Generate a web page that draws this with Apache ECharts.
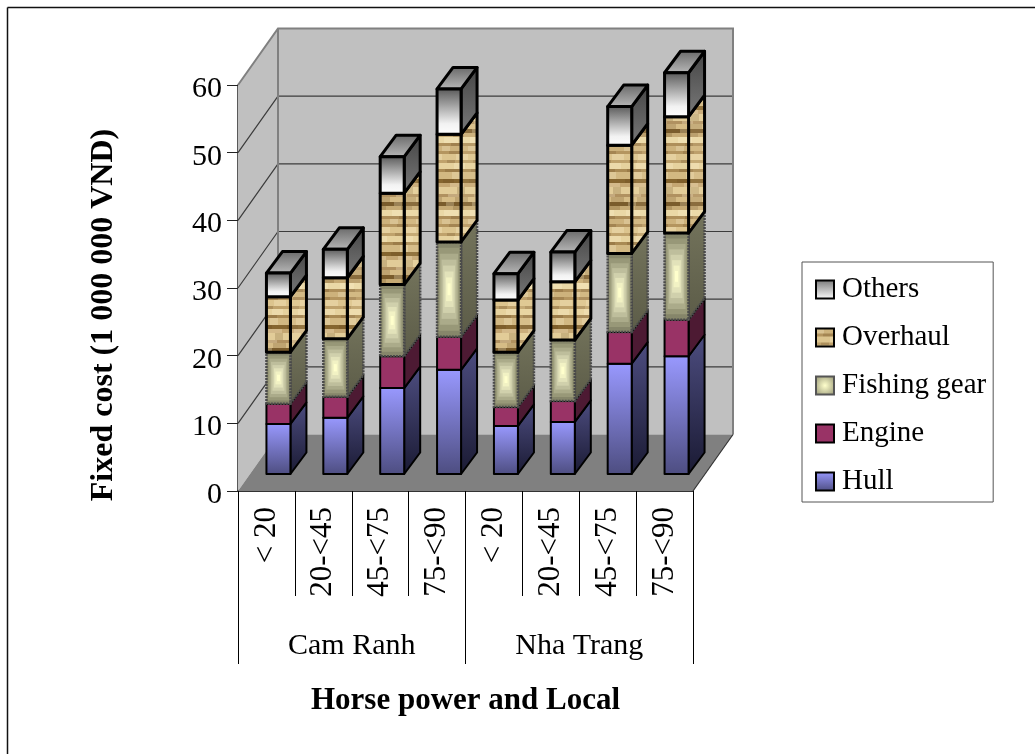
<!DOCTYPE html>
<html>
<head>
<meta charset="utf-8">
<style>
  html, body { margin: 0; padding: 0; background: #fff; }
  #chart { width: 1035px; height: 754px; }
</style>
<script src="https://cdn.jsdelivr.net/npm/echarts@6/dist/echarts.min.js"></script>
</head>
<body>
<div id="chart"></div>
<script>
const categories = ['< 20', '20-<45', '45-<75', '75-<90', '< 20', '20-<45', '45-<75', '75-<90']
const locals = ['Cam Ranh', 'Nha Trang']
const valueTicks = [10, 20, 30, 40, 50, 60]

const hull = [7.4, 8.3, 12.7, 15.4, 7.1, 7.7, 16.3, 17.4]
const engine = [3.0, 3.1, 4.7, 4.9, 2.8, 3.1, 4.7, 5.4]
const fishingGear = [7.6, 8.6, 10.6, 14.0, 8.1, 9.0, 11.6, 12.8]
const overhaul = [8.2, 9.0, 13.5, 15.9, 7.7, 8.6, 16.0, 17.2]
const others = [3.5, 4.2, 5.4, 6.7, 3.9, 4.4, 5.7, 6.5]

const FONT = '"Liberation Serif", "Times New Roman", serif'
// oblique offset of the back wall, and of each bar inside the floor
const DEPTH = [40, -56.5]
const BAR_FRONT = [12, -17]
const BAR_SIDE = [16, -21.5]
const BAR_WIDTH = 24

// tan tile used for the overhaul faces: rows of [height, colour]
const tileRows = [
  [5, '#cdb27c'], [3, '#b4955f'], [6, '#dcc48e'], [3, '#bfa26c'], [6, '#e6d29e'],
  [3, '#a98a54'], [7, '#d2b882'], [4, '#85652f'], [4, '#c4a672'], [7, '#e2cc98'],
  [3, '#b09160'], [5, '#d6bc86'], [4, '#7a5c2c'], [4, '#c6aa74'], [6, '#ead8a6'],
  [3, '#ae8f5a']
]
function makeTile(shade) {
  const c = document.createElement('canvas')
  c.width = 26
  c.height = tileRows.reduce((s, r) => s + r[0], 0)
  const ctx = c.getContext('2d')
  let y = 0
  tileRows.forEach((r, i) => {
    ctx.fillStyle = r[1]
    ctx.fillRect(0, y, 26, r[0])
    // soft blocks so the stripes do not read as plain lines
    ctx.fillStyle = i % 2 ? 'rgba(100,70,30,0.2)' : 'rgba(255,245,210,0.25)'
    ctx.fillRect((i * 7) % 16, y, 8 + (i % 3) * 3, r[0])
    y += r[0]
  })
  if (shade) {
    ctx.fillStyle = shade
    ctx.fillRect(0, 0, 26, c.height)
  }
  return c
}
const overhaulFront = { image: makeTile(null), repeat: 'repeat' }
const overhaulSide = { image: makeTile('rgba(255,240,200,0.12)'), repeat: 'repeat' }

function vGrad(top, bottom) {
  return { type: 'linear', x: 0, y: 0, x2: 0, y2: 1, colorStops: [{ offset: 0, color: top }, { offset: 1, color: bottom }] }
}

const looks = {
  Hull: { front: vGrad('#9999ff', '#4d4d80'), side: vGrad('#4d4d80', '#1a1a33'), line: '#000', lw: 2 },
  Engine: { front: '#993366', side: '#4d1a33', line: '#000', lw: 2 },
  'Fishing gear': { glow: ['#86866a', '#989878', '#abab8a', '#bebe9c', '#d0d0ac', '#e2e2ba', '#f2f2c4', '#ffffcc'], side: vGrad('#74745c', '#5c5c48'), line: '#4a4a4a', lw: 2.5, dash: [2, 1] },
  Overhaul: { front: overhaulFront, side: overhaulSide, line: '#000', lw: 3 },
  Others: {
    front: { type: 'linear', x: 0, y: 0, x2: 0, y2: 1, colorStops: [{ offset: 0, color: '#555555' }, { offset: 0.75, color: '#f2f2f2' }, { offset: 1, color: '#ffffff' }] },
    side: vGrad('#444444', '#7a7a7a'),
    top: vGrad('#666666', '#bbbbbb'),
    line: '#000',
    lw: 3
  }
}

const stackOrder = [['Hull', hull], ['Engine', engine], ['Fishing gear', fishingGear], ['Overhaul', overhaul], ['Others', others]]

function poly(points, fill, look) {
  return {
    type: 'polygon',
    shape: { points },
    style: { fill, stroke: look.line, lineWidth: look.lw, lineDash: look.dash || null, lineJoin: 'round' }
  }
}

function segmentRenderer(level) {
  const name = stackOrder[level][0]
  const look = looks[name]
  return function (params, api) {
    const i = api.value(0)
    let base = 0
    for (let k = 0; k < level; k++) base += stackOrder[k][1][i]
    const lo = api.coord([i, base])
    const hi = api.coord([i, base + api.value(1)])
    const xl = lo[0] + BAR_FRONT[0] - BAR_WIDTH / 2
    const xr = xl + BAR_WIDTH
    const yb = lo[1] + BAR_FRONT[1]
    const yt = hi[1] + BAR_FRONT[1]
    const sx = BAR_SIDE[0]
    const sy = BAR_SIDE[1]
    const kids = []
    kids.push(poly([[xr, yb], [xr + sx, yb + sy], [xr + sx, yt + sy], [xr, yt]], look.side, look))
    if (look.top) kids.push(poly([[xl, yt], [xr, yt], [xr + sx, yt + sy], [xl + sx, yt + sy]], look.top, look))
    if (look.glow) {
      // rectangular glow: nested boxes going to the light centre
      const n = look.glow.length
      look.glow.forEach((color, g) => {
        const ix = (BAR_WIDTH / 2) * g / n
        const iy = ((yb - yt) / 2) * g / n
        kids.push({ type: 'rect', shape: { x: xl + ix, y: yt + iy, width: BAR_WIDTH - 2 * ix, height: yb - yt - 2 * iy }, style: { fill: color } })
      })
      kids.push({ type: 'rect', shape: { x: xl, y: yt, width: BAR_WIDTH, height: yb - yt }, style: { fill: null, stroke: look.line, lineWidth: look.lw, lineDash: look.dash } })
    } else {
      kids.push(poly([[xl, yb], [xr, yb], [xr, yt], [xl, yt]], look.front, look))
    }
    return { type: 'group', children: kids }
  }
}

// walls, floor and the oblique gridlines of the box
function renderBox(params, api) {
  const g = params.coordSys
  const dx = DEPTH[0]
  const dy = DEPTH[1]
  const left = g.x
  const right = g.x + g.width
  const bottom = g.y + g.height
  const top = g.y
  const wall = { fill: '#c0c0c0' }
  const edge = { stroke: '#808080', lineWidth: 2, fill: null }
  const kids = [
    { type: 'polygon', shape: { points: [[left, bottom], [left + dx, bottom + dy], [left + dx, top + dy], [left, top]] }, style: wall },
    { type: 'polygon', shape: { points: [[left + dx, bottom + dy], [right + dx, bottom + dy], [right + dx, top + dy], [left + dx, top + dy]] }, style: wall },
    { type: 'polygon', shape: { points: [[left, bottom], [right, bottom], [right + dx, bottom + dy], [left + dx, bottom + dy]] }, style: { fill: '#808080' } }
  ]
  valueTicks.slice(0, -1).forEach(v => {
    const y = api.coord([0, v])[1]
    kids.push({ type: 'polyline', shape: { points: [[left, y], [left + dx, y + dy], [right + dx, y + dy]] }, style: { stroke: '#3c3c3c', lineWidth: 1.2, fill: null } })
  })
  kids.push({ type: 'polyline', shape: { points: [[left, top], [left + dx, top + dy], [right + dx, top + dy], [right + dx, bottom + dy]] }, style: edge })
  kids.push({ type: 'line', shape: { x1: left + dx, y1: top + dy, x2: left + dx, y2: bottom + dy }, style: edge })
  kids.push({ type: 'line', shape: { x1: right, y1: bottom, x2: right + dx, y2: bottom + dy }, style: { stroke: '#333', lineWidth: 1.2 } })
  return { type: 'group', children: kids }
}

const series = [{
  name: 'box',
  type: 'custom',
  clip: false,
  silent: true,
  z: 1,
  data: [[0, 0]],
  renderItem: renderBox
}]
stackOrder.forEach((s, level) => {
  series.push({
    name: s[0],
    type: 'custom',
    clip: false,
    z: 2 + level,
    encode: { x: 0, y: 1 },
    data: s[1].map((v, i) => [i, v]),
    renderItem: segmentRenderer(level)
  })
})

const legendIcon = {
  Others: vGrad('#777777', '#ffffff'),
  Overhaul: overhaulFront,
  'Fishing gear': { type: 'radial', x: 0.5, y: 0.5, r: 0.7, colorStops: [{ offset: 0, color: '#ffffcc' }, { offset: 1, color: '#8e8e70' }] },
  Engine: '#993366',
  Hull: vGrad('#9999ff', '#4d4d80')
}

const chart = echarts.init(document.getElementById('chart'), null, { renderer: 'canvas' })
chart.setOption({
  animation: false,
  backgroundColor: '#fff',
  textStyle: { fontFamily: FONT, color: '#000' },
  grid: { left: 238, top: 85, width: 455, height: 406, containLabel: false },
  graphic: [
    { type: 'line', shape: { x1: 7.5, y1: 7.5, x2: 1035, y2: 7.5 }, style: { stroke: '#111', lineWidth: 1.5 } },
    { type: 'line', shape: { x1: 7.5, y1: 7.5, x2: 7.5, y2: 754 }, style: { stroke: '#111', lineWidth: 1.5 } }
  ],
  legend: {
    orient: 'vertical',
    left: 802,
    top: 262,
    padding: [13, 7, 6, 13],
    itemWidth: 18,
    itemHeight: 18,
    itemGap: 19,
    icon: 'rect',
    align: 'left',
    borderColor: '#555',
    borderWidth: 1,
    backgroundColor: '#fff',
    selectedMode: false,
    textStyle: { fontFamily: FONT, fontSize: 29, color: '#000', padding: [0, 0, 0, 3] },
    data: ['Others', 'Overhaul', 'Fishing gear', 'Engine', 'Hull'].map(name => ({
      name,
      itemStyle: { color: legendIcon[name], borderColor: name === 'Fishing gear' ? '#555' : '#000', borderWidth: 2 }
    }))
  },
  xAxis: [
    {
      type: 'category',
      position: 'bottom',
      data: categories,
      axisLine: { show: true, lineStyle: { color: '#333', width: 2 } },
      axisTick: { show: true, length: 105, lineStyle: { color: '#000', width: 1 } },
      axisLabel: { show: true, interval: 0, rotate: 90, margin: 16, fontFamily: FONT, fontSize: 31, color: '#000' }
    },
    {
      type: 'category',
      position: 'bottom',
      data: locals,
      name: 'Horse power and Local',
      nameLocation: 'middle',
      nameGap: 194,
      nameTextStyle: { fontFamily: FONT, fontSize: 31, fontWeight: 'bold', color: '#000' },
      axisLine: { show: false },
      axisTick: { show: true, length: 173, lineStyle: { color: '#000', width: 1 } },
      axisLabel: { show: true, interval: 0, margin: 140, fontFamily: FONT, fontSize: 30, color: '#000' }
    }
  ],
  yAxis: {
    type: 'value',
    min: 0,
    max: 60,
    interval: 10,
    name: 'Fixed cost (1 000 000 VND)',
    nameLocation: 'middle',
    nameGap: 118,
    nameRotate: 90,
    nameTextStyle: { fontFamily: FONT, fontSize: 32, fontWeight: 'bold', color: '#000', padding: [0, 54, 0, 0] },
    axisLine: { show: true, lineStyle: { color: '#222', width: 1.5 } },
    axisTick: { show: true, length: 11, lineStyle: { color: '#222', width: 1 } },
    axisLabel: {
      margin: 16,
      formatter: '{n|{value}}',
      rich: { n: { fontFamily: FONT, fontSize: 30, color: '#000', padding: [8, 0, 0, 0] } }
    },
    splitLine: { show: false }
  },
  series
})
</script>
</body>
</html>
